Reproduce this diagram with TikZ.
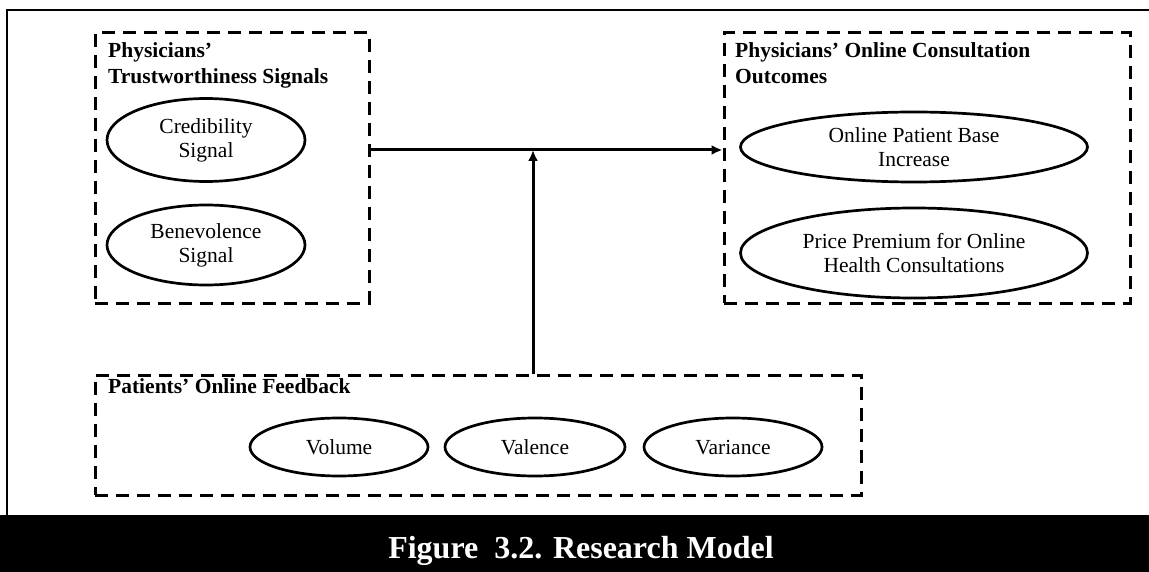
\documentclass[tikz,border=0pt]{standalone}
\usepackage{fontspec}
\setmainfont{Liberation Serif}
\usetikzlibrary{shapes.geometric,arrows.meta}
\begin{document}
\begin{tikzpicture}[x=1pt,y=-1pt,
  dbox/.style={draw,line width=3pt,dash pattern=on 13pt off 8pt,rectangle,inner sep=0pt},
  ell/.style={draw,line width=2.7pt,ellipse,inner sep=0pt,align=center,
    font=\fontsize{21.5}{24}\selectfont},
  ttl/.style={anchor=north west,align=left,inner sep=0pt,
    font=\fontsize{21.5}{26}\selectfont\bfseries},
  arr/.style={line width=3pt,-{Latex[length=11pt,width=10pt]}}]
\useasboundingbox (0,0) rectangle (1149,572);
% outer frame and caption band
\fill[black] (0,515) rectangle (1149,572);
\draw[line width=2.6pt] (7,515) -- (7,10) -- (1149,10);
\node[anchor=base,text=white,inner sep=0pt,font=\fontsize{32}{36}\selectfont\bfseries] (cap) at (581,558) {Figure\ \ 3.2. Research Model};
% boxes
\node[dbox,minimum width=274pt,minimum height=270pt] (tbox) at (232,168) {};
\node[dbox,minimum width=406pt,minimum height=270pt] (obox) at (927,168) {};
\node[dbox,minimum width=766pt,minimum height=120pt] (fbox) at (478,435) {};
% titles
\node[ttl] (ttitle) at (108,42) {Physicians'\\Trustworthiness Signals};
\node[ttl] (otitle) at (735,42) {Physicians' Online Consultation\\Outcomes};
\node[ttl,anchor=base west] (ftitle) at (108,393) {Patients' Online Feedback};
% ellipses
\node[ell,minimum width=198pt,minimum height=83pt] (cred) at (206,140) {Credibility\\Signal};
\node[ell,minimum width=198pt,minimum height=80pt] (bene) at (206,245) {Benevolence\\Signal};
\node[ell,minimum width=347pt,minimum height=70pt] (opb) at (914,147) {Online Patient Base\\Increase};
\node[ell,minimum width=347pt,minimum height=90pt] (ppr) at (914,253) {Price Premium for Online\\Health Consultations};
\node[ell,minimum width=178pt,minimum height=58pt] (vol) at (339,447) {\vphantom{l}Volume};
\node[ell,minimum width=180pt,minimum height=58pt] (val) at (535,447) {\vphantom{l}Valence};
\node[ell,minimum width=178pt,minimum height=58pt] (var) at (733,447) {\vphantom{l}Variance};
% arrows
\coordinate (hy) at (0,150);
\coordinate (mid) at (533,150);
\draw[arr] (tbox.east |- hy) -- (obox.west |- hy);
\draw[arr] (fbox.north -| mid) -- (mid);
\end{tikzpicture}
\end{document}
